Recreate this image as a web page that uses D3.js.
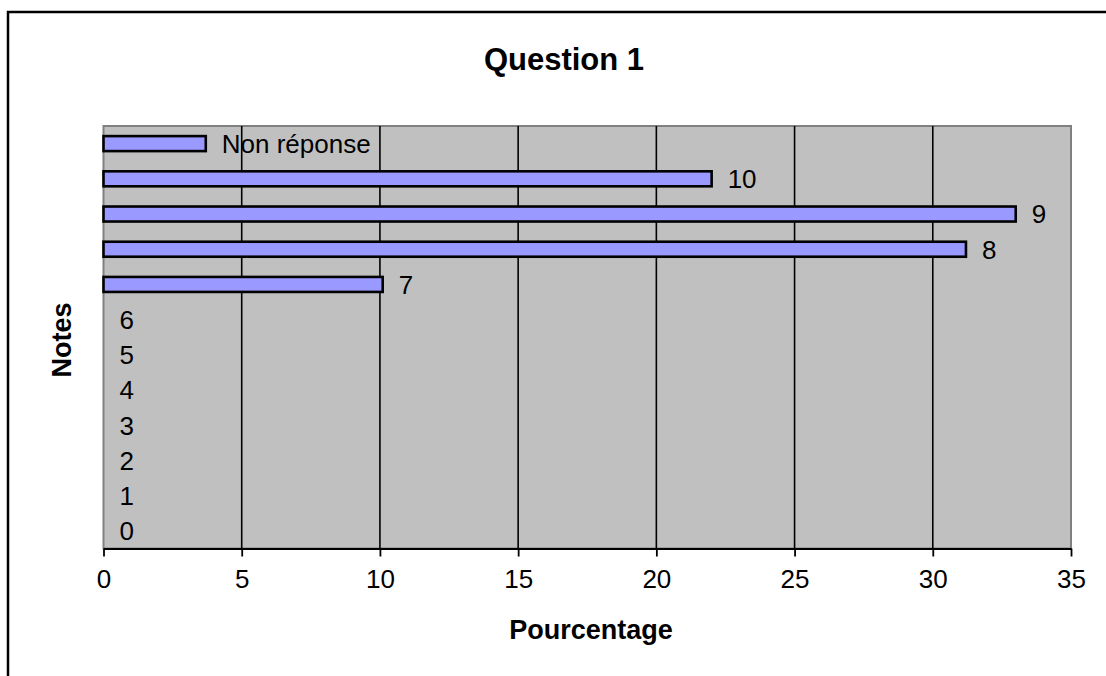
<!DOCTYPE html>
<html>
<head>
<meta charset="utf-8">
<script src="https://cdn.jsdelivr.net/npm/d3@7"></script>
<style>
  body { margin: 0; background: #fff; }
  text { font-family: "Liberation Sans", Arial, sans-serif; }
</style>
</head>
<body>
<svg width="1106" height="676"></svg>
<script>
// data
const categories = ["Non réponse", "10", "9", "8", "7", "6", "5", "4", "3", "2", "1", "0"];
const values = [3.7, 22.0, 33.0, 31.2, 10.1, 0, 0, 0, 0, 0, 0, 0];
const xTicks = [0, 5, 10, 15, 20, 25, 30, 35];

const svg = d3.select("svg");
const width = +svg.attr("width");
const height = +svg.attr("height");

// plot area
const plotLeft = 103.5, plotRight = 1071, plotTop = 126, plotBottom = 548.5;

// outer chart frame (right and bottom run off the picture)
svg.append("path")
  .attr("d", `M8,${height + 2} L8,12 L${width + 2},12`)
  .attr("fill", "none")
  .attr("stroke", "#000")
  .attr("stroke-width", 2.5);

const x = d3.scaleLinear().domain([0, 35]).range([plotLeft, plotRight]);
const y = d3.scaleBand().domain(categories).range([plotTop, plotBottom]);

// grey background
svg.append("rect")
  .attr("x", plotLeft).attr("y", plotTop)
  .attr("width", plotRight - plotLeft).attr("height", plotBottom - plotTop)
  .attr("fill", "#c0c0c0")
  .attr("stroke", "#808080")
  .attr("stroke-width", 2);

// vertical gridlines
svg.append("g")
  .selectAll("line")
  .data(xTicks.slice(1, -1))
  .enter().append("line")
    .attr("x1", d => x(d)).attr("x2", d => x(d))
    .attr("y1", plotTop).attr("y2", plotBottom)
    .attr("stroke", "#000")
    .attr("stroke-width", 1.6);

// x axis
const xAxis = svg.append("g")
  .attr("transform", `translate(0,${plotBottom})`)
  .call(d3.axisBottom(x).tickValues(xTicks).tickSize(8).tickSizeOuter(0).tickPadding(13));
xAxis.select(".domain").attr("stroke", "#000").attr("stroke-width", 2);
xAxis.selectAll(".tick line").attr("stroke", "#000").attr("stroke-width", 1.8);
xAxis.selectAll(".tick text")
  .attr("font-size", 26)
  .attr("font-family", "Liberation Sans, Arial, sans-serif")
  .attr("fill", "#000");

// bars
const barH = 15;
const rows = categories.map((c, i) => ({ cat: c, value: values[i] }));
svg.append("g")
  .selectAll("rect")
  .data(rows.filter(d => d.value > 0))
  .enter().append("rect")
    .attr("x", x(0))
    .attr("y", d => y(d.cat) + y.bandwidth() / 2 - barH / 2)
    .attr("width", d => x(d.value) - x(0))
    .attr("height", barH)
    .attr("fill", "#9999ff")
    .attr("stroke", "#000")
    .attr("stroke-width", 2.6);

// category labels at the end of each bar
svg.append("g")
  .selectAll("text")
  .data(rows)
  .enter().append("text")
    .attr("x", d => x(d.value) + 16)
    .attr("y", d => y(d.cat) + y.bandwidth() / 2)
    .attr("dy", "0.36em")
    .attr("font-size", 26)
    .attr("fill", "#000")
    .text(d => d.cat);

// titles
svg.append("text")
  .attr("x", 564).attr("y", 70)
  .attr("text-anchor", "middle")
  .attr("font-size", 31)
  .attr("font-weight", "bold")
  .text("Question 1");

svg.append("text")
  .attr("x", 591).attr("y", 639)
  .attr("text-anchor", "middle")
  .attr("font-size", 27)
  .attr("font-weight", "bold")
  .text("Pourcentage");

svg.append("text")
  .attr("transform", "translate(71,340) rotate(-90)")
  .attr("text-anchor", "middle")
  .attr("font-size", 27)
  .attr("font-weight", "bold")
  .text("Notes");
</script>
</body>
</html>
